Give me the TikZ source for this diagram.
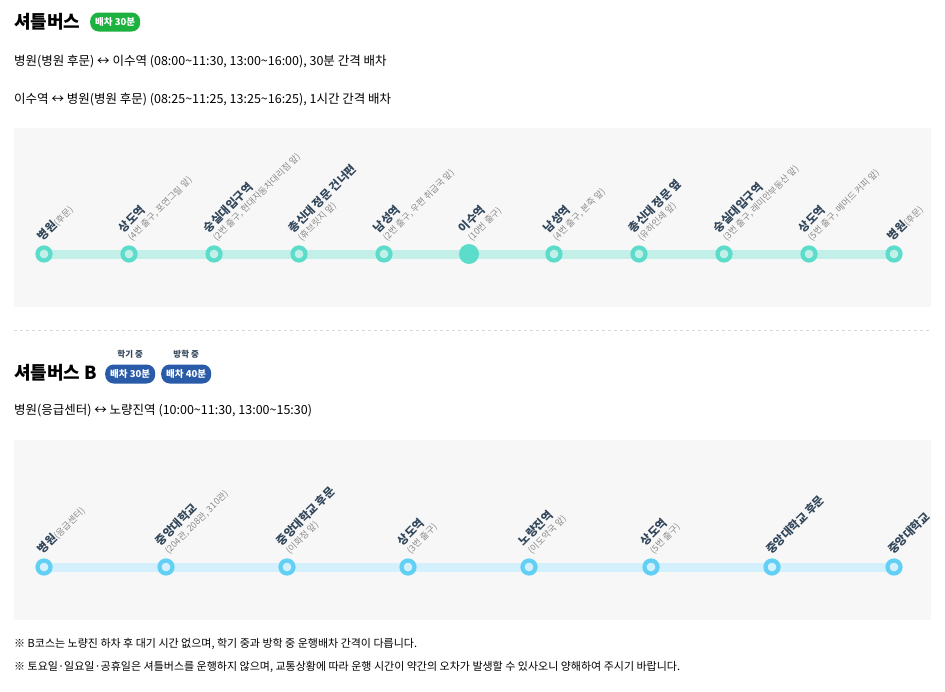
\documentclass[tikz,border=0pt]{standalone}
\usepackage{fontspec}
\setmainfont{Noto Sans CJK KR}
\definecolor{navy}{HTML}{33475B}
\definecolor{subg}{HTML}{8A8A8A}
\definecolor{tealr}{HTML}{5CDCCB}
\definecolor{teall}{HTML}{C2F0E8}
\definecolor{bluer}{HTML}{62D0F5}
\definecolor{bluel}{HTML}{D4F0FC}
\definecolor{panel}{HTML}{F7F7F7}
\definecolor{gbadge}{HTML}{1DB23F}
\definecolor{bbadge}{HTML}{2A5BA8}
\tikzset{
 badge/.style={fill=#1,text=white,rounded corners=8.5pt,font=\bfseries\fontsize{9.5}{11}\selectfont,inner xsep=5pt,inner ysep=2.5pt,minimum height=19pt},
 lbl/.style={rotate=45,anchor=south west,align=left,inner sep=0pt,text=navy,font=\bfseries\fontsize{11.5}{11.5}\selectfont},
 ringA/.style={circle,draw=tealr,line width=4.2pt,fill=teall,minimum size=13pt,inner sep=0pt},
 ringB/.style={circle,draw=bluer,line width=4.2pt,fill=bluel,minimum size=13pt,inner sep=0pt},
 txt/.style={anchor=west,inner sep=0pt,font=\fontsize{12.5}{14}\selectfont},
}
\newcommand{\sbt}[1]{{\mdseries\color{subg}\fontsize{9}{10}\selectfont #1}}
\begin{document}
\begin{tikzpicture}[x=1pt,y=-1pt]
\useasboundingbox (0,0) rectangle (945,691);
\node[anchor=west,inner sep=0pt,font=\bfseries\fontsize{18}{20}\selectfont] (t1) at (14,22) {셔틀버스};
\node[badge=gbadge,anchor=west] (b1) at (90,22) {배차 30분};
\node[txt] (l1) at (14,62) {병원(병원 후문) ↔ 이수역 (08:00\textasciitilde 11:30, 13:00\textasciitilde 16:00), 30분 간격 배차};
\node[txt] (l2) at (14,100) {이수역 ↔ 병원(병원 후문) (08:25\textasciitilde 11:25, 13:25\textasciitilde 16:25), 1시간 간격 배차};
\fill[panel] (14,128) rectangle (931,307);
\draw[teall,line width=9pt] (44,254) -- (894,254);
\foreach \i/\x in {1/44,2/129,3/214,4/299,5/384,6/469,7/554,8/639,9/724,10/809,11/894}{
 \node[ringA] (a\i) at (\x,254) {};}
\fill[tealr] (a6) circle (10pt);
\node[lbl] (la1) at ([shift={(0,-11)}]a1.center) {병원\sbt{(후문)}};
\node[lbl] (la2) at ([shift={(4,-11)}]a2.center) {상도역\\\sbt{(4번 출구, 포연그릴 앞)}};
\node[lbl] (la3) at ([shift={(4,-11)}]a3.center) {숭실대입구역\\\sbt{(2번 출구, 현대자동차대리점 앞)}};
\node[lbl] (la4) at ([shift={(4,-11)}]a4.center) {총신대 정문 건너편\\\sbt{(휴브릿지 앞)}};
\node[lbl] (la5) at ([shift={(4,-11)}]a5.center) {남성역\\\sbt{(2번 출구, 우편 취급국 앞)}};
\node[lbl] (la6) at ([shift={(4,-11)}]a6.center) {이수역\\\sbt{(10번 출구)}};
\node[lbl] (la7) at ([shift={(4,-11)}]a7.center) {남성역\\\sbt{(4번 출구, 본죽 앞)}};
\node[lbl] (la8) at ([shift={(4,-11)}]a8.center) {총신대 정문 옆\\\sbt{(유하인쇄 앞)}};
\node[lbl] (la9) at ([shift={(4,-11)}]a9.center) {숭실대입구역\\\sbt{(3번 출구, 래미안부동산 앞)}};
\node[lbl] (la10) at ([shift={(4,-11)}]a10.center) {상도역\\\sbt{(5번 출구, 메머드 커피 앞)}};
\node[lbl] (la11) at ([shift={(0,-11)}]a11.center) {병원\sbt{(후문)}};
\draw[gray!30,dashed] (14,330) -- (931,330);
\node[anchor=west,inner sep=0pt,font=\bfseries\fontsize{18}{20}\selectfont] (t2) at (14,373) {셔틀버스 B};
\node[badge=bbadge,anchor=west] (b2) at (105,374) {배차 30분};
\node[badge=bbadge,anchor=west] (b3) at (161,374) {배차 40분};
\node[font=\bfseries\fontsize{8.5}{10}\selectfont,text=navy,above=2pt] (s2) at (b2.north) {학기 중};
\node[font=\bfseries\fontsize{8.5}{10}\selectfont,text=navy,above=2pt] (s3) at (b3.north) {방학 중};
\node[txt] (l3) at (14,411) {병원(응급센터) ↔ 노량진역 (10:00\textasciitilde 11:30, 13:00\textasciitilde 15:30)};
\fill[panel] (14,440) rectangle (931,620);
\draw[bluel,line width=9pt] (44,567) -- (894,567);
\foreach \i/\x in {1/44,2/166,3/287,4/408,5/529,6/651,7/772,8/894}{
 \node[ringB] (c\i) at (\x,567) {};}
\node[lbl] (lb1) at ([shift={(0,-11)}]c1.center) {병원\sbt{(응급센터)}};
\node[lbl] (lb2) at ([shift={(4,-11)}]c2.center) {중앙대학교\\\sbt{(204관, 208관, 310관)}};
\node[lbl] (lb3) at ([shift={(4,-11)}]c3.center) {중앙대학교 후문\\\sbt{(이화정 앞)}};
\node[lbl] (lb4) at ([shift={(4,-11)}]c4.center) {상도역\\\sbt{(3번 출구)}};
\node[lbl] (lb5) at ([shift={(4,-11)}]c5.center) {노량진역\\\sbt{(이도약국 앞)}};
\node[lbl] (lb6) at ([shift={(4,-11)}]c6.center) {상도역\\\sbt{(5번 출구)}};
\node[lbl] (lb7) at ([shift={(0,-11)}]c7.center) {중앙대학교 후문};
\node[lbl] (lb8) at ([shift={(0,-11)}]c8.center) {중앙대학교};
\node[txt,font=\fontsize{11}{13}\selectfont] (f1) at (14,644) {※ B코스는 노량진 하차 후 대기 시간 없으며, 학기 중과 방학 중 운행배차 간격이 다릅니다.};
\node[txt,font=\fontsize{11}{13}\selectfont] (f2) at (14,667) {※ 토요일·일요일·공휴일은 셔틀버스를 운행하지 않으며, 교통상황에 따라 운행 시간이 약간의 오차가 발생할 수 있사오니 양해하여 주시기 바랍니다.};
\end{tikzpicture}
\end{document}
